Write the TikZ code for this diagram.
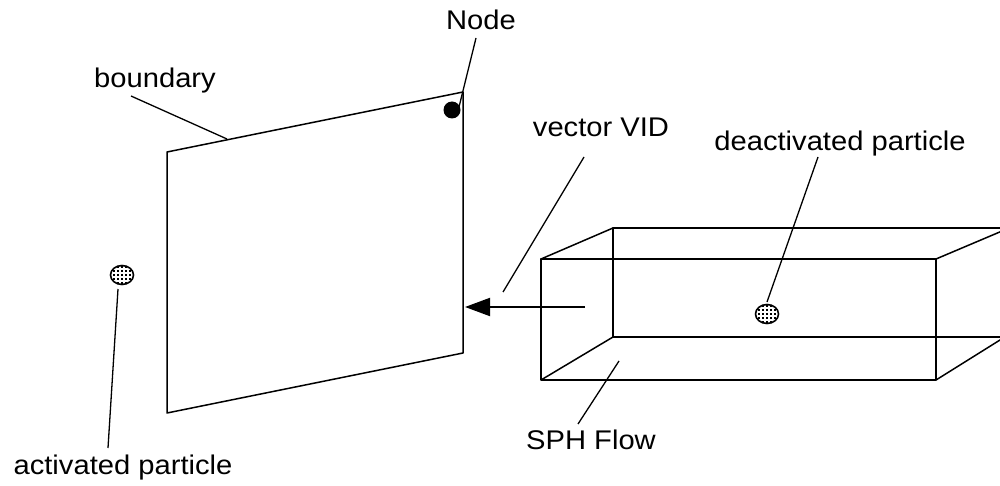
\documentclass[tikz,border=0pt]{standalone}
\usepackage{fontspec}
\setmainfont{Liberation Sans}[FakeStretch=1.08]
\usetikzlibrary{arrows.meta}
\tikzset{
  lbl/.style={anchor=base, inner sep=0pt, font=\fontsize{27}{30}\selectfont},
  edge/.style={line width=1.5pt, line join=round},
  leader/.style={line width=1.3pt},
  particle/.style={line width=1.6pt},
}
\newcommand{\mkparticle}[2]{%
  \begin{scope}
    \clip (#1,#2) ellipse [x radius=11.5, y radius=9.5];
    \foreach \i in {-12,-8,...,12} {
      \foreach \j in {-12,-8,...,12} {
        \fill[black] ({#1+\i-0.9},{#2+\j-0.9}) rectangle ++(1.8,1.8);
      }
    }
  \end{scope}
  \draw[particle] (#1,#2) ellipse [x radius=11.5, y radius=9.5];
}
\begin{document}
\begin{tikzpicture}[x=1pt,y=-1pt]
\useasboundingbox (0,0) rectangle (1000,486);
\fill[white] (0,0) rectangle (1000,486);

% boundary plane
\coordinate (btl) at (167,152);
\coordinate (btr) at (463,92);
\coordinate (bbr) at (463,353);
\coordinate (bbl) at (167,413);
\draw[edge] (btl) -- (btr) -- (bbr) -- (bbl) -- cycle;

% node dot
\node[circle, fill=black, minimum size=17pt, inner sep=0pt] (dot) at (452,110) {};

% labels
\node[lbl] (nodeL) at (481,30) {Node};
\node[lbl] (boundL) at (155,88) {boundary};
\node[lbl] (vecL) at (601,137) {vector VID};
\node[lbl] (deactL) at (840,151) {deactivated particle};
\node[lbl] (sphL) at (591,449) {SPH Flow};
\node[lbl] (actL) at (123,474) {activated particle};

% SPH flow box
\begin{scope}
\clip (0,0) rectangle (1000,486);
\coordinate (ftl) at (541,259);
\coordinate (ftr) at (936,259);
\coordinate (fbr) at (936,380);
\coordinate (fbl) at (541,380);
\coordinate (ktl) at (613,228);
\coordinate (kbl) at (613,337);
\coordinate (ktr) at (1010,228);
\coordinate (kbr) at (1010,337);
\coordinate (rt) at (1008,228.5);
\coordinate (rb) at (1008,335);
\draw[edge] (ftl) -- (ftr) -- (fbr) -- (fbl) -- cycle;
\draw[edge] (ktr) -- (ktl) -- (kbl) -- (kbr);
\draw[edge] (ftl) -- (ktl);
\draw[edge] (fbl) -- (kbl);
\draw[edge] (ftr) -- (rt);
\draw[edge] (fbr) -- (rb);
\end{scope}

% particles
\mkparticle{122}{275}
\coordinate (actP) at (118,289);
\mkparticle{767}{314}
\coordinate (deactP) at (767,302);

% arrow (vector)
\coordinate (arrS) at (585,307);
\coordinate (arrE) at (465,307);
\draw[line width=2pt, -{Triangle[length=25pt,width=18pt]}] (arrS) -- (arrE);

% leaders
\coordinate (nodeA) at (476,38);
\coordinate (nodeB) at (459,107);
\draw[leader] (nodeA) -- (nodeB);

\coordinate (boundA) at (131,96);
\coordinate (boundB) at (227,139);
\draw[leader] (boundA) -- (boundB);

\coordinate (vecA) at (584,157);
\coordinate (vecB) at (503,292);
\draw[leader] (vecA) -- (vecB);

\coordinate (deactA) at (818,157);
\draw[leader] (deactA) -- (deactP);

\coordinate (sphA) at (578,424);
\coordinate (sphB) at (619,361);
\draw[leader] (sphA) -- (sphB);

\coordinate (actA) at (108,448);
\draw[leader] (actP) -- (actA);
\end{tikzpicture}
\end{document}
